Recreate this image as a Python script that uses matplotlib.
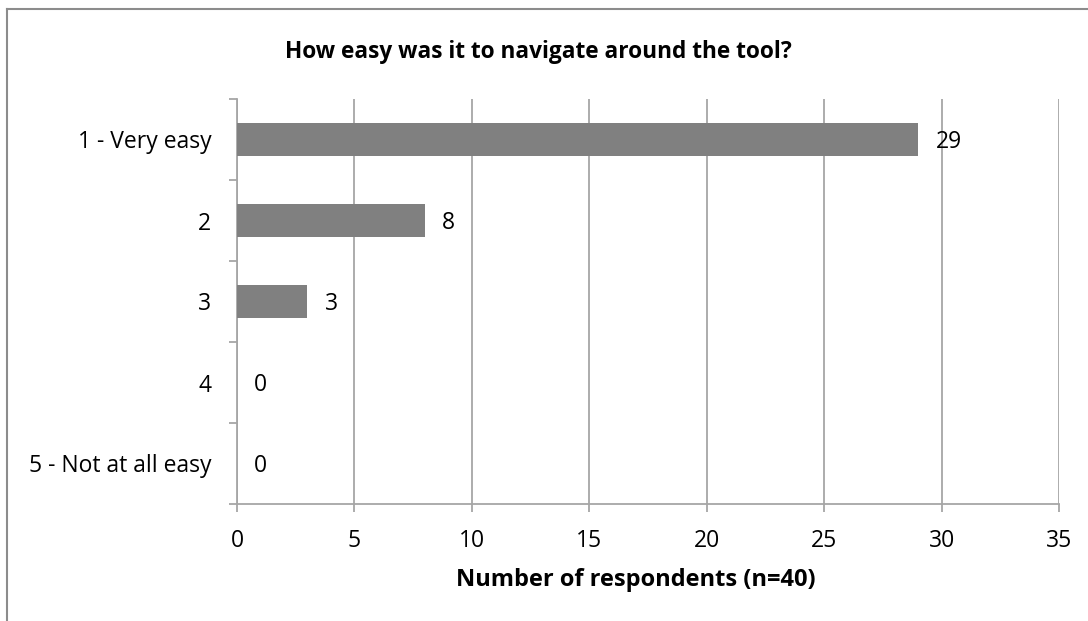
import matplotlib
matplotlib.use("Agg")
import matplotlib.pyplot as plt
from matplotlib.lines import Line2D

categories = ["1 - Very easy", "2", "3", "4", "5 - Not at all easy"]
values = [29, 8, 3, 0, 0]
xticks = [0, 5, 10, 15, 20, 25, 30, 35]
title = "How easy was it to navigate around the tool?"
xlabel = "Number of respondents (n=40)"

plt.rcParams['font.family'] = ['Open Sans', 'DejaVu Sans']

W, H = 1088, 621
fig = plt.figure(figsize=(W / 100, H / 100), dpi=100)
ax = fig.add_axes([237 / W, 1 - 504 / H, (1059 - 237) / W, (504 - 99) / H])

grid_c = "#a6a6a6"
ypos = list(range(len(categories)))
ax.barh(ypos, values, height=0.4, color="#808080", zorder=3)
ax.set_ylim(len(categories) - 0.5, -0.5)
ax.set_xlim(0, 35)
ax.set_xticks(xticks)
ax.set_xticklabels([str(t) for t in xticks], fontsize=16.5)
ax.set_yticks(ypos)
ax.set_yticklabels(categories, fontsize=16.5)
ax.set_yticks([i - 0.5 for i in range(len(categories) + 1)], minor=True)
ax.tick_params(axis='y', which='major', length=0, pad=18.5)
ax.tick_params(axis='y', which='minor', length=5.8, color=grid_c, width=1.3)
ax.tick_params(axis='x', which='major', length=5.8, color=grid_c, width=1.3, pad=12)
ax.xaxis.grid(True, color=grid_c, linewidth=1.3, zorder=0)
for s in ["top", "right"]:
    ax.spines[s].set_visible(False)
for s in ["left", "bottom"]:
    ax.spines[s].set_color(grid_c)
    ax.spines[s].set_linewidth(1.3)

for y, v in zip(ypos, values):
    ax.annotate(str(v), (v, y), xytext=(12.5, -2), textcoords="offset points",
                va="center", ha="left", fontsize=16.5, zorder=4)

fig.text(538 / W, 1 - 52 / H, title, ha="center", va="center", fontsize=16.3, fontweight="bold")
fig.text(636 / W, 1 - 580 / H, xlabel, ha="center", va="center", fontsize=17, fontweight="bold")

fig.add_artist(Line2D([7 / W, 1], [1 - 9 / H, 1 - 9 / H], color="#8c8c8c", linewidth=1.5, transform=fig.transFigure))
fig.add_artist(Line2D([7 / W, 7 / W], [1 - 9 / H, 0], color="#8c8c8c", linewidth=1.5, transform=fig.transFigure))

fig.savefig("out.png", dpi=100)
